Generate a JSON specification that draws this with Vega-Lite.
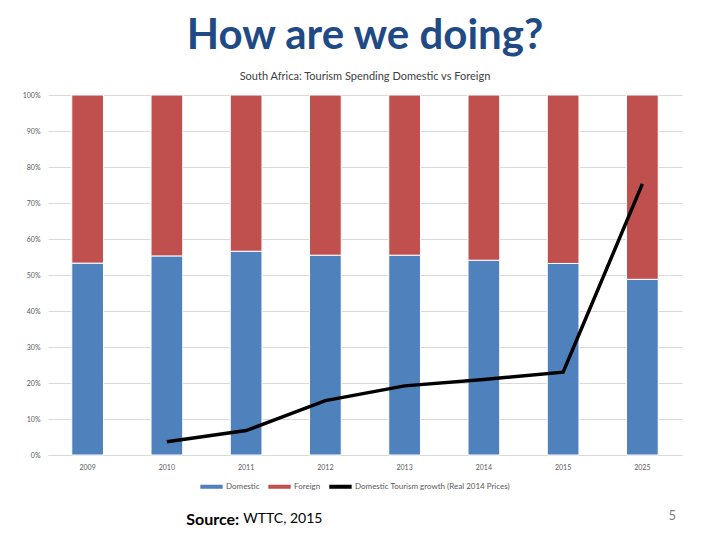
{
  "$schema": "https://vega.github.io/schema/vega-lite/v6.json",
  "background": "white",
  "padding": {"left": 22, "top": 15, "right": 5, "bottom": 5},
  "datasets": {
    "share": [
      {"year": "2009", "type": "Domestic", "value": 0.533},
      {"year": "2009", "type": "Foreign", "value": 0.467},
      {"year": "2010", "type": "Domestic", "value": 0.553},
      {"year": "2010", "type": "Foreign", "value": 0.447},
      {"year": "2011", "type": "Domestic", "value": 0.566},
      {"year": "2011", "type": "Foreign", "value": 0.434},
      {"year": "2012", "type": "Domestic", "value": 0.555},
      {"year": "2012", "type": "Foreign", "value": 0.445},
      {"year": "2013", "type": "Domestic", "value": 0.555},
      {"year": "2013", "type": "Foreign", "value": 0.445},
      {"year": "2014", "type": "Domestic", "value": 0.541},
      {"year": "2014", "type": "Foreign", "value": 0.459},
      {"year": "2015", "type": "Domestic", "value": 0.532},
      {"year": "2015", "type": "Foreign", "value": 0.468},
      {"year": "2025", "type": "Domestic", "value": 0.488},
      {"year": "2025", "type": "Foreign", "value": 0.512}
    ],
    "growth": [
      {"year": "2010", "type": "Domestic Tourism growth (Real 2014 Prices)", "value": 0.037},
      {"year": "2011", "type": "Domestic Tourism growth (Real 2014 Prices)", "value": 0.068},
      {"year": "2012", "type": "Domestic Tourism growth (Real 2014 Prices)", "value": 0.151},
      {"year": "2013", "type": "Domestic Tourism growth (Real 2014 Prices)", "value": 0.192},
      {"year": "2014", "type": "Domestic Tourism growth (Real 2014 Prices)", "value": 0.210},
      {"year": "2015", "type": "Domestic Tourism growth (Real 2014 Prices)", "value": 0.230},
      {"year": "2025", "type": "Domestic Tourism growth (Real 2014 Prices)", "value": 0.753}
    ]
  },
  "title": {
    "text": "5",
    "orient": "bottom",
    "anchor": "end",
    "font": "Lato",
    "fontSize": 13,
    "fontWeight": "normal",
    "color": "#7f7f7f",
    "dx": -6,
    "dy": -22
  },
  "resolve": {"scale": {"color": "independent"}},
  "vconcat": [
    {
      "title": {
        "text": "WTTC, 2015",
        "orient": "bottom",
        "anchor": "start",
        "font": "Lato",
        "fontSize": 14,
        "fontWeight": "normal",
        "color": "#000000",
        "dx": 221,
        "dy": -20
      },
      "resolve": {"scale": {"color": "independent"}},
      "vconcat": [
        {
          "title": {
            "text": "Source:",
            "orient": "bottom",
            "anchor": "start",
            "font": "Lato",
            "fontSize": 16,
            "fontWeight": "bold",
            "color": "#000000",
            "dx": 164,
            "offset": 21
          },
          "resolve": {"scale": {"color": "independent"}},
          "vconcat": [
            {
              "width": 634,
              "height": 360,
              "title": {
                "text": "How are we doing?",
                "subtitle": "South Africa: Tourism Spending Domestic vs Foreign",
                "anchor": "middle",
                "font": "Lato",
                "fontSize": 42,
                "fontWeight": "bold",
                "color": "#1F4A85",
                "subtitleFont": "Lato",
                "subtitleFontSize": 11,
                "subtitleColor": "#404040",
                "subtitlePadding": 13,
                "offset": 8
              },
              "encoding": {
                "x": {
                  "field": "year",
                  "type": "nominal",
                  "sort": null,
                  "scale": {"paddingInner": 0.6, "paddingOuter": 0.3},
                  "axis": {
                    "title": null,
                    "labelAngle": 0,
                    "labelFont": "Lato",
                    "labelFontSize": 7,
                    "labelColor": "#595959",
                    "ticks": false,
                    "labelPadding": 8,
                    "domainColor": "#d9d9d9"
                  }
                }
              },
              "layer": [
                {
                  "data": {"name": "share"},
                  "mark": {"type": "bar", "stroke": "white", "strokeWidth": 1},
                  "encoding": {
                    "y": {
                      "field": "value",
                      "type": "quantitative",
                      "stack": "zero",
                      "scale": {"domain": [0, 1]},
                      "axis": {
                        "title": null,
                        "format": ".0%",
                        "tickCount": 10,
                        "labelFont": "Lato",
                        "labelFontSize": 7,
                        "labelColor": "#595959",
                        "ticks": false,
                        "domain": false,
                        "labelPadding": 8,
                        "gridColor": "#d9d9d9"
                      }
                    },
                    "color": {
                      "field": "type",
                      "type": "nominal",
                      "scale": {
                        "domain": ["Domestic", "Foreign", "Domestic Tourism growth (Real 2014 Prices)"],
                        "range": ["#4F81BD", "#C0504D", "#000000"]
                      },
                      "legend": {"orient": "none", "legendX": 152, "legendY": 380}
                    },
                    "order": {"field": "type", "sort": "ascending"}
                  }
                },
                {
                  "data": {"name": "growth"},
                  "mark": {"type": "line", "strokeWidth": 3.5},
                  "encoding": {
                    "y": {"field": "value", "type": "quantitative"},
                    "color": {"field": "type", "type": "nominal"}
                  }
                }
              ],
              "resolve": {"scale": {"color": "shared"}}
            }
          ]
        }
      ]
    }
  ],
  "config": {
    "view": {"stroke": null},
    "legend": {
      "direction": "horizontal",
      "title": null,
      "labelFont": "Lato",
      "labelFontSize": 8,
      "labelColor": "#595959",
      "symbolType": "M-1,-0.18H1V0.18H-1Z",
      "symbolSize": 500,
      "symbolStrokeWidth": 0,
      "columnPadding": 8,
      "labelOffset": 3
    }
  }
}
